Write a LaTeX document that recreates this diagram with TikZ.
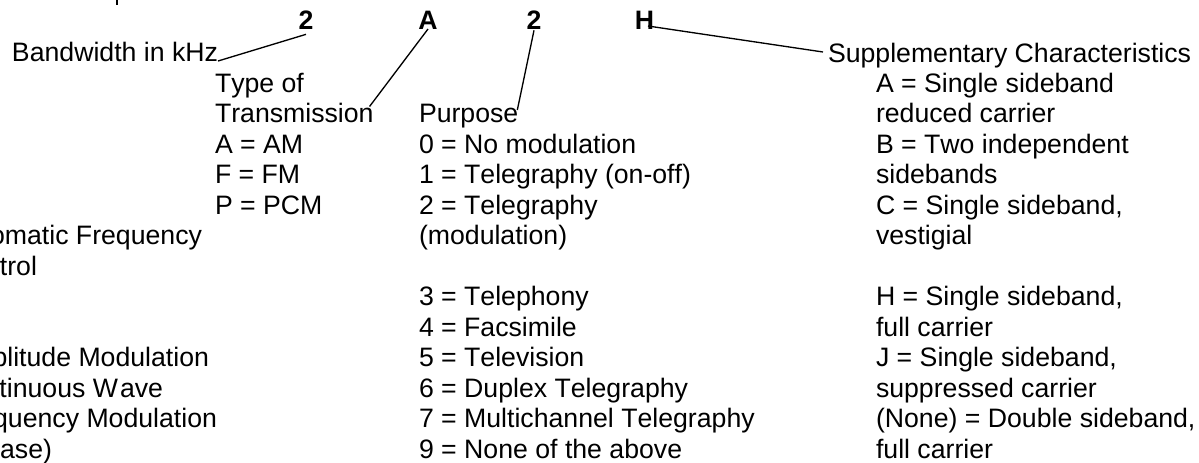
\documentclass[tikz,border=0pt]{standalone}
\usepackage{fontspec}
\setmainfont[Kerning=Off]{Liberation Sans}
\begin{document}
\begin{tikzpicture}[x=0.75pt,y=-0.75pt,
  lbl/.style={anchor=base west, inner sep=0pt, outer sep=0pt, font=\fontsize{20}{24}\selectfont},
  lblr/.style={lbl, anchor=base east},
  code/.style={anchor=base, inner sep=0pt, outer sep=0pt, font=\fontsize{20}{24}\selectfont\bfseries},
  conn/.style={draw=black, line width=1pt}]
\useasboundingbox (0,0) rectangle (1199,462);
\clip (0,0) rectangle (1199,462);
% cropped descender at the top
\draw[line width=1.5pt] (116.7,0) -- (116.7,4.7);
% code letters
\node[code] (c1) at (306,29) {2};
\node[code] (c2) at (428,29) {A};
\node[code] (c3) at (534,29) {2};
\node[code] (c4) at (644.5,29) {H};
% headings
\node[lbl] (bw) at (12,61) {Bandwidth in kHz};
\node[lbl] (ty) at (215,92) {Type of};
\node[lbl] (tr) at (215,122.5) {Transmission};
\node[lbl] (pu) at (419,122.5) {Purpose};
\node[lbl] (su) at (828,62) {Supplementary Characteristics};
% left column
\node[lbl] (l1) at (215,153) {A = AM};
\node[lbl] (l2) at (215,183.5) {F = FM};
\node[lbl] (l3) at (215,214) {P = PCM};
% cropped left text
\node[lblr] (f1) at (202,244.5) {omatic Frequency};
\node[lblr] (f2) at (37,275) {trol};
\node[lblr] (f3) at (209,366.5) {plitude Modulation};
\node[lbl]  (f4) at (-0.5,397) {tinuous W\hspace{1.5pt}ave};
\node[lblr] (f5) at (217,427.5) {quency Modulation};
\node[lblr] (f6) at (52,458) {ase)};
% middle column
\foreach \k/\t in {1/{0 = No modulation},2/{1 = Telegraphy (on-off)},3/{2 = Telegraphy},4/{(modulation)},6/{3 = Telephony},7/{4 = Facsimile},8/{5 = Television},9/{6 = Duplex Telegraphy},10/{7 = Multichannel Telegraphy},11/{9 = None of the above}}
  \node[lbl] (m\k) at (419,{122.5+30.5*\k}) {\t};
% right column
\foreach \k/\t in {-1/{A = Single sideband},0/{reduced carrier},1/{B = Two independent},2/{sidebands},3/{C = Single sideband,},4/{vestigial},6/{H = Single sideband,},7/{full carrier},8/{J = Single sideband,},9/{suppressed carrier},10/{(None) = Double sideband,},11/{full carrier}}
  \node[lbl] (r\k) at (876,{122.5+30.5*\k}) {\t};
% connectors
\draw[conn] (bw.base east) -- ([yshift=-4]c1.south);
\draw[conn] ([shift={(-4,-16)}]tr.base east) -- (c2.south);
\draw[conn] ([shift={(-1,-12.5)}]pu.base east) -- ([yshift=-1]c3.south);
\draw[conn] ([shift={(3.5,-3)}]c4.south) -- ([shift={(-5,-10)}]su.base west);
\end{tikzpicture}
\end{document}
